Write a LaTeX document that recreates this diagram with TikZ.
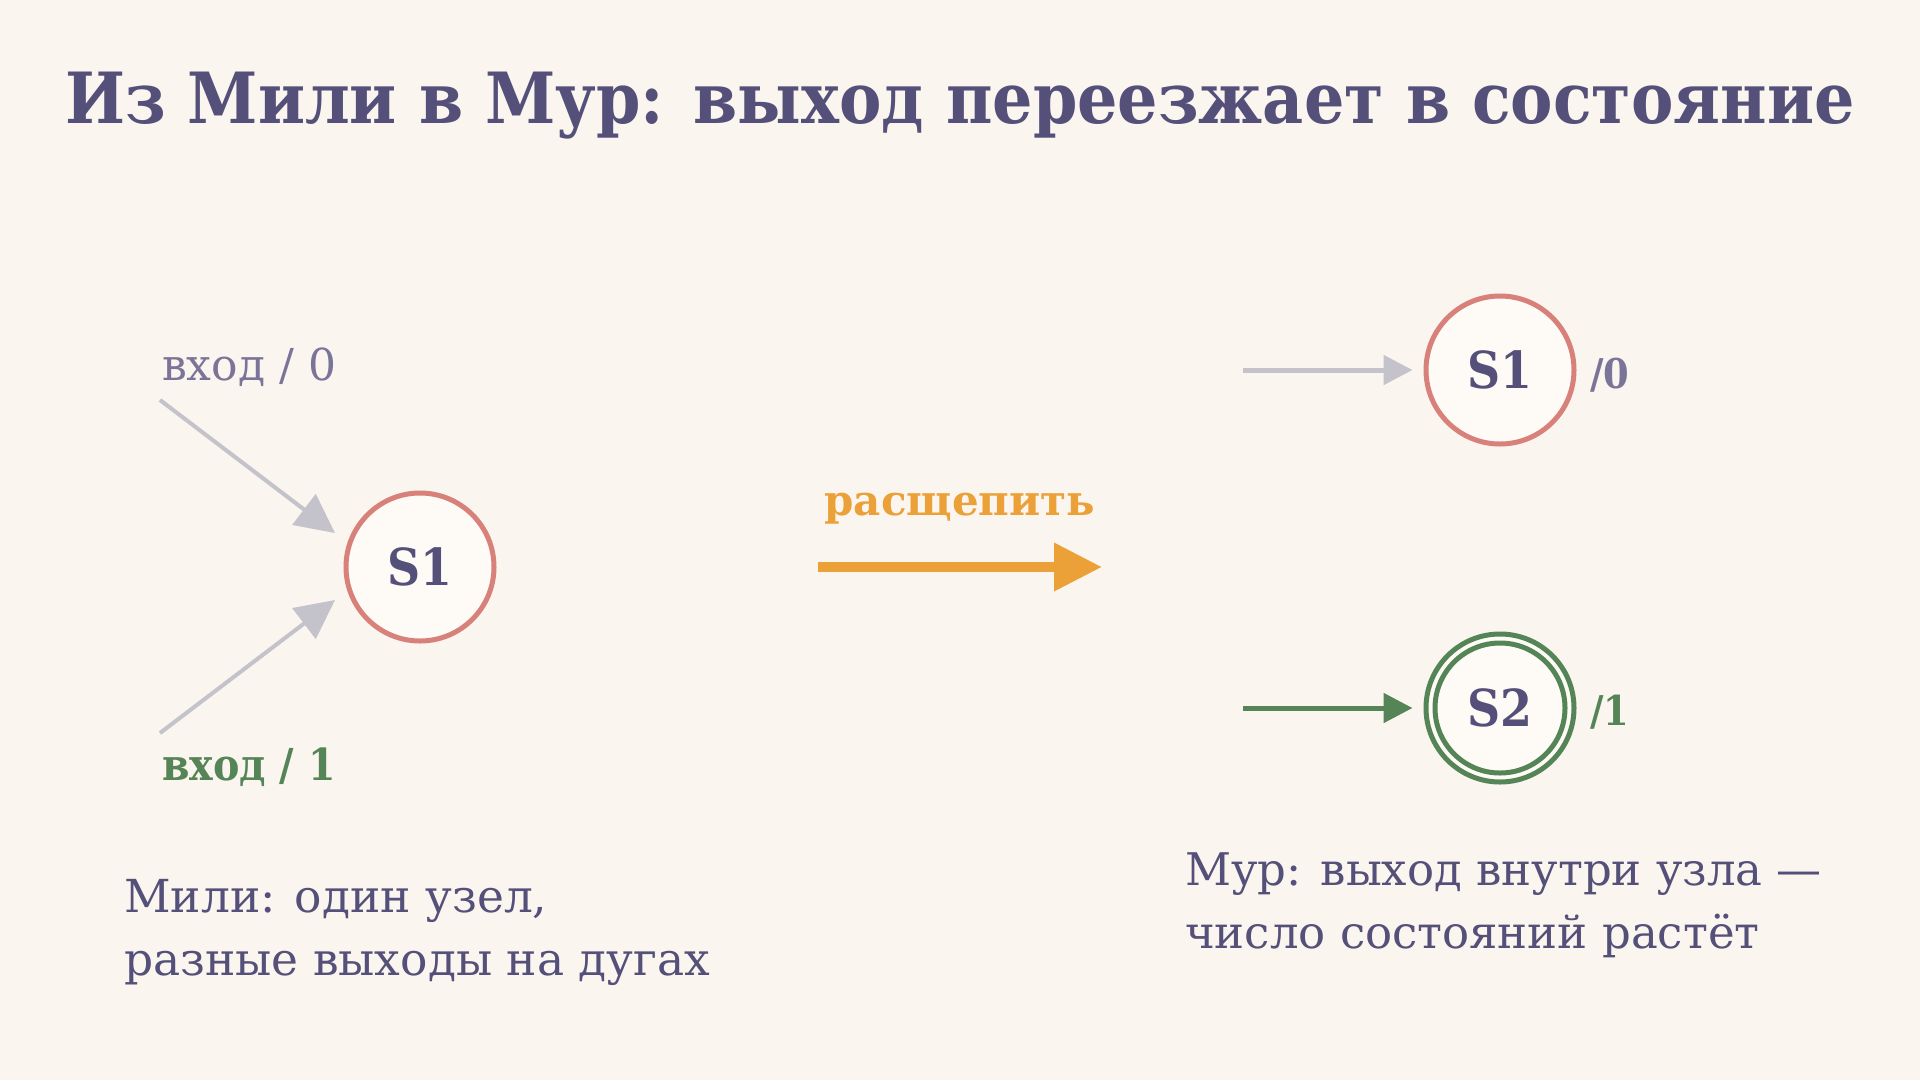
\documentclass[tikz,border=0pt]{standalone}
\usepackage{fontspec}
\setmainfont{DejaVu Serif}
\newfontfamily\cond{DejaVu Serif Condensed}
\usetikzlibrary{arrows.meta}
\definecolor{bg}{HTML}{FAF5EE}
\definecolor{ink}{HTML}{555079}
\definecolor{soft}{HTML}{7A7499}
\definecolor{rosy}{HTML}{D8807A}
\definecolor{grn}{HTML}{558456}
\definecolor{org}{HTML}{EBA038}
\definecolor{gry}{HTML}{C4C2CB}
\definecolor{nodefill}{HTML}{FEFBF6}
\tikzset{
  state/.style={circle, draw=rosy, line width=5pt, fill=nodefill, minimum size=148pt, inner sep=0pt,
    text=ink, font=\cond\fontsize{51}{60}\selectfont\bfseries},
  greenstate/.style={state, draw=grn},
  lbl/.style={inner sep=0pt, anchor=base west},
  greyarrow/.style={draw=gry, line width=4pt, -{Triangle[length=39pt,width=38pt]}},
  smallarrow/.style={line width=5pt, shorten >=11pt, -{Triangle[length=29pt,width=29pt]}},
  bigarrow/.style={draw=org, line width=10pt, -{Triangle[length=48pt,width=46pt]}},
  bodytext/.style={inner sep=0pt, anchor=north west, align=left, text=ink, font=\fontsize{45.5}{63}\selectfont},
}
\begin{document}
\begin{tikzpicture}[x=1pt,y=-1pt]
\useasboundingbox[fill=bg] (0,0) rectangle (1920,1080);
% title
\node[inner sep=0pt, anchor=base, text=ink, font=\cond\fontsize{70.6}{80}\selectfont\bfseries] (title) at (960,123) {Из Мили в Мур: выход переезжает в состояние};
% Mealy side
\node[state] (mS1) at (420,567) {S1};
\node[lbl, text=soft, font=\fontsize{44}{50}\selectfont] (in0) at (162,380) {вход / 0};
\node[lbl, text=grn, font=\cond\fontsize{44}{50}\selectfont\bfseries] (in1) at (162,780) {вход / 1};
\coordinate (a0s) at (160,400);
\coordinate (a0e) at (335,533);
\coordinate (a1s) at (160,733);
\coordinate (a1e) at (335,600);
\draw[greyarrow] (a0s) -- (a0e);
\draw[greyarrow] (a1s) -- (a1e);
\node[bodytext] (mealy) at (124,879) {Мили: один узел,\\разные выходы на дугах};
% split arrow
\node[inner sep=0pt, anchor=base, text=org, font=\fontsize{42}{50}\selectfont\bfseries] (split) at (960,515) {расщепить};
\coordinate (ss) at (818,567);
\coordinate (se) at (1102,567);
\draw[bigarrow] (ss) -- (se);
% Moore side
\node[state] (S1) at (1500,370) {S1};
\node[greenstate] (S2) at (1500,708) {S2};
\draw[grn, line width=5pt] (S2.center) circle[radius=65pt];
\coordinate (e1) at (1243,370);
\coordinate (e2) at (1243,708);
\draw[smallarrow, draw=gry] (e1) -- (S1);
\draw[smallarrow, draw=grn] (e2) -- (S2);
\node[lbl, text=soft, font=\cond\fontsize{41}{50}\selectfont\bfseries] (o0) at (1590,388) {/0};
\node[lbl, text=grn, font=\cond\fontsize{41}{50}\selectfont\bfseries] (o1) at (1590,725) {/1};
\node[bodytext, font=\fontsize{45}{63}\selectfont] (moore) at (1185,852) {Мур: выход внутри узла —\\число состояний растёт};
\end{tikzpicture}
\end{document}
